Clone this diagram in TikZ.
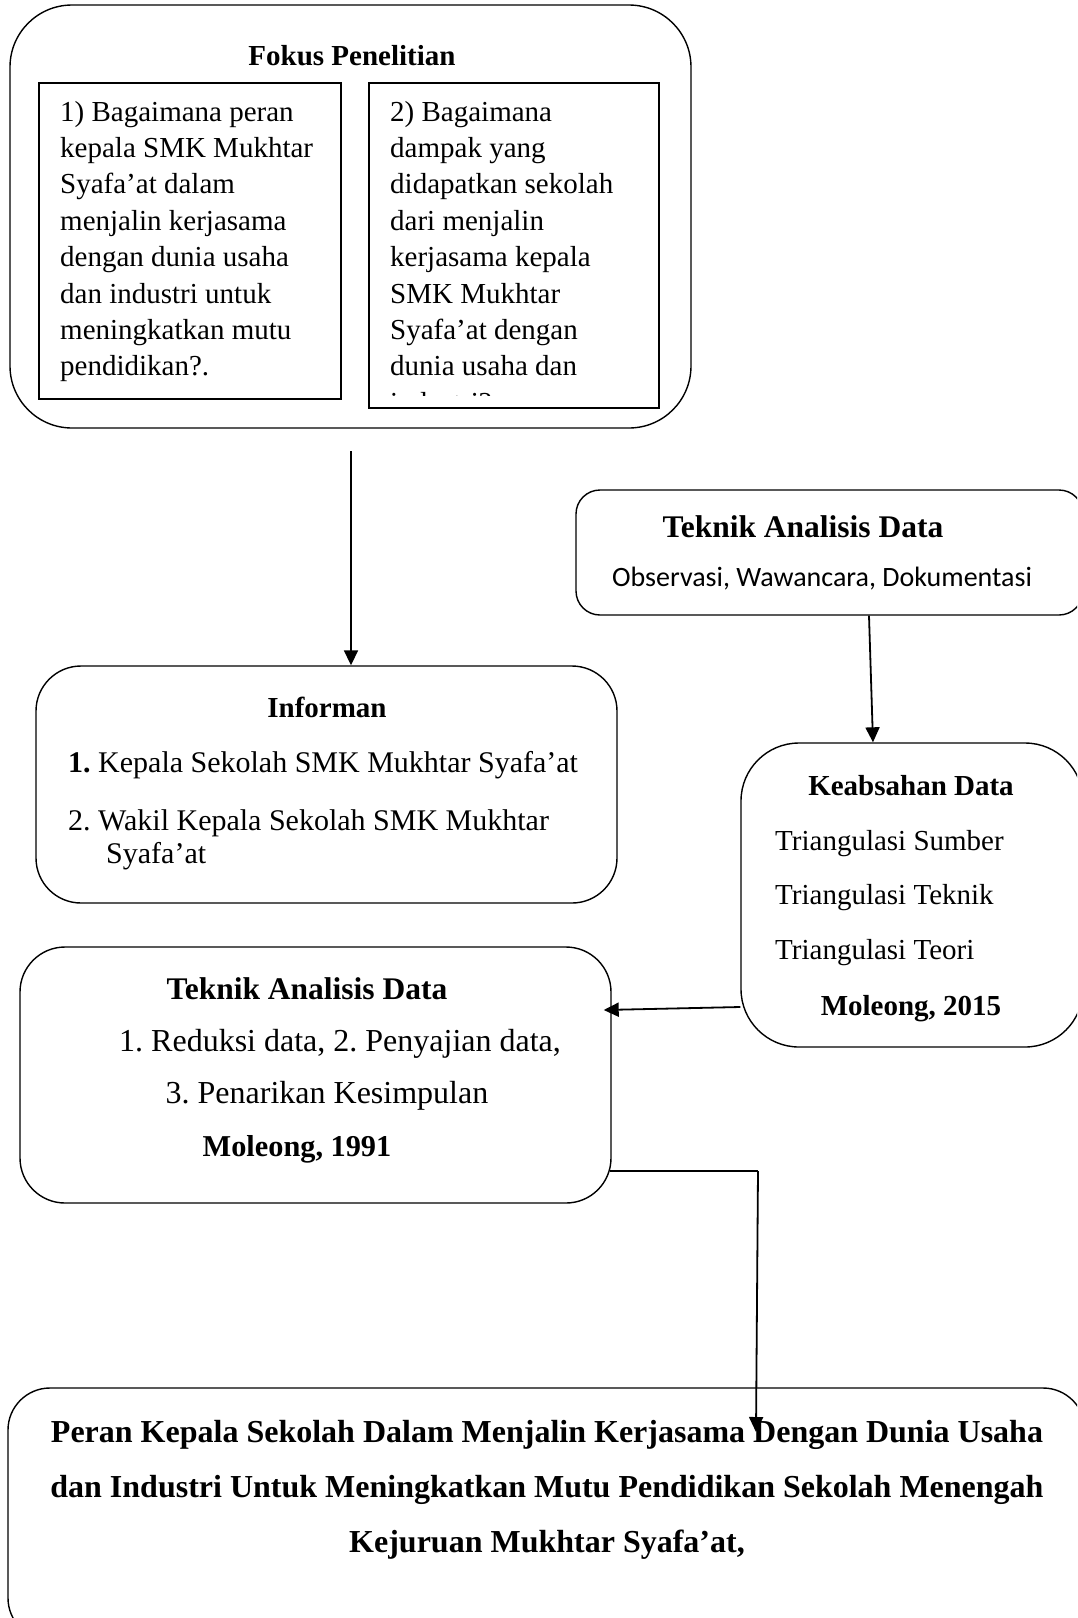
\documentclass[tikz,border=0pt]{standalone}
\usepackage{fontspec}
\setmainfont{Liberation Serif}
\newfontfamily\calib{Carlito}
\usetikzlibrary{arrows.meta}
\frenchspacing
\newcommand\fsN{\fontsize{29}{35}\selectfont}
\newcommand\fsI{\fontsize{30}{36}\selectfont}
\newcommand\fsB{\fontsize{29}{35}\selectfont\bfseries}
\newcommand\fsT{\fontsize{31.5}{38}\selectfont\bfseries}
\newcommand\fsL{\fontsize{32}{38}\selectfont}
\newcommand\fsC{\fontsize{32}{38}\selectfont\bfseries}
\tikzset{
  rbox/.style={draw, line width=1.4pt, inner sep=0pt, rounded corners=#1},
  sbox/.style={draw, line width=1.4pt, inner sep=0pt},
  tl/.style={inner sep=0pt, anchor=base west},
  tc/.style={inner sep=0pt, anchor=base},
  arr/.style={line width=1.8pt, -{Triangle[length=15pt,width=14pt]}},
}
\begin{document}
\begin{tikzpicture}[x=1pt,y=-1pt]
\clip (0,0) rectangle (1077,1618);
\fill[white] (0,0) rectangle (1077,1618);

% ---------- Fokus Penelitian ----------
\node[rbox=62pt, minimum width=681pt, minimum height=423pt] (fokus) at (350.5,216.5) {};
\node[tc, font=\fsB] (fokust) at (352,65) {Fokus Penelitian};
\node[sbox, minimum width=302pt, minimum height=316pt] (q1) at (190,241) {};
\node[sbox, minimum width=290pt, minimum height=325pt] (q2) at (514,245.5) {};
\foreach \t [count=\i] in {1) Bagaimana peran, kepala SMK Mukhtar, Syafa’at dalam, menjalin kerjasama, dengan dunia usaha, dan industri untuk, meningkatkan mutu, pendidikan?.}
  \node[tl, font=\fsN] (qa\i) at (60,{121+36.4*(\i-1)}) {\t};
\begin{scope}
\clip (369,83) rectangle (659,395);
\foreach \t [count=\i] in {2) Bagaimana, dampak yang, didapatkan sekolah, dari menjalin, kerjasama kepala, SMK Mukhtar, Syafa’at dengan, dunia usaha dan, industri?}
  \node[tl, font=\fsN] (qb\i) at (390,{121+36.4*(\i-1)}) {\t};
\end{scope}

% ---------- Teknik (top right) ----------
\node[rbox=24pt, minimum width=507pt, minimum height=125pt] (tad1) at (829.5,552.5) {};
\node[tc, font=\fsT] (tad1t) at (803,537) {Teknik Analisis Data};
\node[tc, font=\calib\fontsize{28}{34}\selectfont] (tad1s) at (822,586) {Observasi, Wawancara, Dokumentasi};

% ---------- Keabsahan ----------
\node[rbox=58pt, minimum width=342pt, minimum height=304pt] (keab) at (912,895) {};
\node[tc, font=\fsB] (keabt) at (911,795) {Keabsahan Data};
\node[tl, font=\fsN] (k1) at (775,850) {Triangulasi Sumber};
\node[tl, font=\fsN] (k2) at (775,904) {Triangulasi Teknik};
\node[tl, font=\fsN] (k3) at (775,959) {Triangulasi Teori};
\node[tc, font=\fsB] (k4) at (911,1015) {Moleong, 2015};

% ---------- Informan ----------
\node[rbox=45pt, minimum width=581pt, minimum height=237pt] (inf) at (326.5,784.5) {};
\node[tc, font=\fsB] (inft) at (327,717) {Informan};
\node[tl, font=\fsI] (i1) at (68,772) {\textbf{1.} Kepala Sekolah SMK Mukhtar Syafa’at};
\node[tl, font=\fsI] (i2) at (68,830) {2. Wakil Kepala Sekolah SMK Mukhtar};
\node[tl, font=\fsI] (i3) at (106,863) {Syafa’at};

% ---------- Teknik (left) ----------
\node[rbox=45pt, minimum width=591pt, minimum height=256pt] (tad2) at (315.5,1075) {};
\node[tc, font=\fsT] (tad2t) at (307,999) {Teknik Analisis Data};
\node[tl, font=\fsL] (l1) at (119,1051) {1. Reduksi data, 2. Penyajian data,};
\node[tc, font=\fsL] (l2) at (327,1103) {3. Penarikan Kesimpulan};
\node[tc, font=\fontsize{30.3}{36}\selectfont\bfseries] (l3) at (297,1156) {Moleong, 1991};

% ---------- Conclusion ----------
\node[rbox=42pt, minimum width=1077pt, minimum height=252pt] (concl) at (546.5,1514) {};
\node[tc, font=\fsC] (c1) at (547,1442) {Peran Kepala Sekolah Dalam Menjalin Kerjasama Dengan Dunia Usaha};
\node[tc, font=\fsC] (c2) at (547,1497) {dan Industri Untuk Meningkatkan Mutu Pendidikan Sekolah Menengah};
\node[tc, font=\fsC] (c3) at (547,1552) {Kejuruan Mukhtar Syafa’at,};

% ---------- connectors ----------
\coordinate (a1s) at (351,451);
\draw[arr] (a1s) -- (a1s |- inf.north);
\draw[arr] ([xshift=39.5pt]tad1.south) -- ([xshift=-39pt]keab.north);
\draw[arr] ([yshift=-112pt]keab.west) -- ([xshift=-8pt,yshift=65pt]tad2.east);
\coordinate (bend) at (758,1171);
\coordinate (a4e) at (756,1432);
\draw[line width=1.8pt] ([xshift=-2pt,yshift=-96pt]tad2.east) -- (bend);
\draw[arr] (bend) -- (a4e);
\end{tikzpicture}
\end{document}
